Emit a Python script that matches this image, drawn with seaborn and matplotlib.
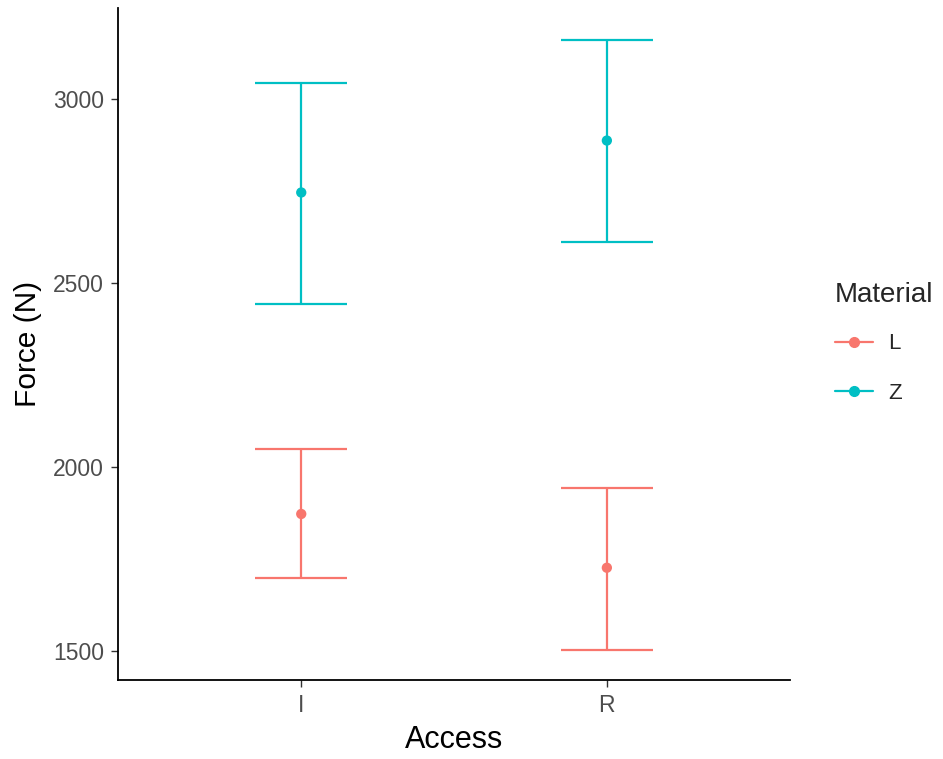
import matplotlib
matplotlib.use("Agg")
import matplotlib.pyplot as plt
import seaborn as sns
import pandas as pd
from matplotlib.lines import Line2D

access = ["I", "R", "I", "R"]
material = ["L", "L", "Z", "Z"]
mean_force = [1872, 1726, 2745, 2886]
lower_force = [1698, 1503, 2443, 2611]
upper_force = [2049, 1943, 3043, 3158]

palette = {"L": "#F8766D", "Z": "#00BFC4"}

df = pd.DataFrame({"Access": access, "Material": material, "Force": mean_force,
                   "lo": lower_force, "hi": upper_force})

sns.set_theme(style="ticks")
plt.rcParams["font.family"] = ["Liberation Sans", "DejaVu Sans"]

fig = plt.figure(figsize=(9.43, 7.59), dpi=100)
ax = fig.add_axes([0.125, 0.104, 0.713, 0.885])

order = ["I", "R"]
xmap = {k: i for i, k in enumerate(order)}
cap = 0.15
for _, r in df.iterrows():
    x = xmap[r["Access"]]
    c = palette[r["Material"]]
    ax.vlines(x, r["lo"], r["hi"], color=c, lw=1.6, zorder=2)
    ax.hlines([r["lo"], r["hi"]], x - cap, x + cap, color=c, lw=1.6, zorder=2)

sns.scatterplot(data=df, x=df["Access"].map(xmap), y="Force", hue="Material",
                palette=palette, s=55, edgecolor="none", ax=ax, legend=False, zorder=3)

ax.set_xlim(-0.6, 1.6)
ax.set_ylim(1421, 3245)
ax.set_xticks(range(len(order)))
ax.set_xticklabels(order)
ax.set_yticks([1500, 2000, 2500, 3000])
ax.tick_params(axis="both", colors="#333333", labelcolor="#4D4D4D", labelsize=16.5,
               length=5, width=1, pad=5)
ax.set_xlabel("Access", fontsize=22, color="black", labelpad=6)
ax.set_ylabel("Force (N)", fontsize=21.5, color="black", labelpad=8)
for s in ["top", "right"]:
    ax.spines[s].set_visible(False)
for s in ["left", "bottom"]:
    ax.spines[s].set_linewidth(1.3)
    ax.spines[s].set_color("black")

handles = [Line2D([0], [0], color=palette[m], marker="o", markersize=7, lw=1.6)
           for m in ["L", "Z"]]
leg = fig.legend(handles, ["L", "Z"], title="Material", loc="upper left",
                 bbox_to_anchor=(0.8855, 0.628), frameon=False, fontsize=16,
                 title_fontsize=20, handlelength=1.7, labelspacing=1.3,
                 handletextpad=0.7, borderpad=0, borderaxespad=0)
leg._legend_box.align = "left"
leg._legend_box.sep = 18

fig.savefig("out.png", dpi=100)
